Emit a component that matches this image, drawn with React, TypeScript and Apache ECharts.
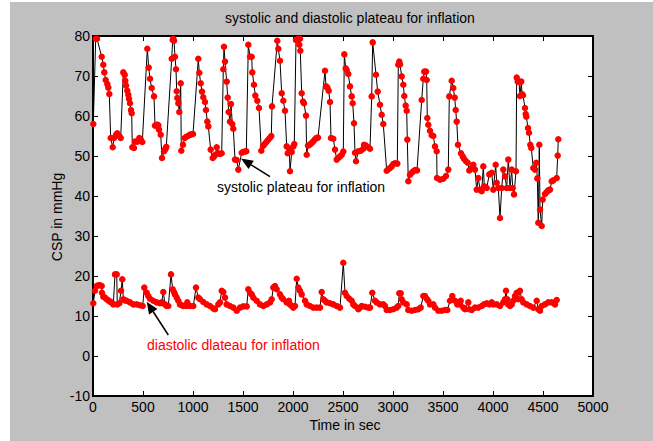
import React, { useEffect, useRef } from "react";
import * as echarts from "echarts";

// [time in sec, CSP in mmHg]
const systolicPoints: [number, number][] = [
  [3, 58], [27, 79.3], [40, 79.3], [87, 74.8], [103, 72.8], [113, 70.9], [127, 69], [143, 68], [153, 67.1], [163, 65.5],
  [177, 54.5], [197, 52.2], [210, 54.5], [230, 55.3], [243, 55.7], [263, 55], [277, 54.5],
  [303, 70.9], [317, 70.3], [323, 68.8], [330, 67.6], [343, 66.3], [353, 65.3], [360, 64.3], [370, 63.2], [380, 61.5], [387, 60.7],
  [393, 52.2], [410, 52], [420, 53.6], [443, 53.6], [463, 54.5], [477, 54.2], [493, 53.5],
  [543, 76.8], [557, 72.1], [570, 69.3], [587, 67], [610, 64.9], [620, 57.6], [637, 57.8], [645, 57.8], [653, 57.7], [660, 56.6], [677, 55.3],
  [690, 49.5], [710, 51.2], [720, 51.6], [727, 51.9], [733, 52.3],
  [787, 74.3], [797, 79], [803, 79.3], [810, 78.8], [820, 74.8], [830, 71.7], [837, 66.2], [843, 64.5], [853, 63.2], [863, 61], [877, 68.2],
  [883, 51.3], [900, 52.8], [917, 54.5], [933, 54.8], [950, 55], [967, 55.3], [983, 55.4], [1000, 55.5],
  [1053, 74.3], [1063, 70.8], [1077, 68.2], [1090, 66.1], [1103, 64.7], [1120, 63.5], [1130, 61.5], [1143, 58.6], [1153, 57.4],
  [1177, 51.6], [1197, 49.5], [1210, 49.9], [1223, 50.3], [1237, 52.2], [1253, 50.7], [1270, 50.5], [1287, 50.7],
  [1303, 71.7], [1310, 77.3], [1320, 73.6], [1337, 68.6], [1347, 64.6], [1357, 61], [1370, 58.6], [1380, 63], [1393, 58], [1403, 56.8],
  [1420, 49.1], [1437, 49], [1453, 46.6], [1487, 50.8], [1500, 51], [1517, 51.1], [1533, 51.2],
  [1553, 77.8], [1570, 74.8], [1587, 74.8], [1593, 70.9], [1610, 67.8], [1623, 65.1], [1643, 63.8], [1660, 62],
  [1683, 51.3], [1700, 52.5], [1717, 53], [1733, 53.5], [1750, 54], [1767, 54.5], [1783, 55], [1790, 62.4],
  [1843, 78.8], [1853, 76.8], [1870, 73.8], [1887, 65.7], [1903, 63.8], [1920, 61.3],
  [1937, 52.4], [1947, 50.7], [1963, 51.8], [1970, 46.2], [1987, 51], [2003, 52.4], [2013, 53],
  [2030, 79], [2053, 79.3], [2063, 77.8], [2070, 79.3], [2073, 76.3], [2087, 65.7], [2100, 63.6], [2110, 63.2], [2130, 60.1],
  [2137, 50.3], [2150, 52.6], [2167, 52.8], [2183, 53.2], [2200, 53.6], [2217, 54.1], [2233, 54.5], [2250, 54.6],
  [2320, 71.3], [2330, 67.4], [2343, 67.1], [2357, 66.3], [2370, 63.5],
  [2380, 54.5], [2403, 54.3], [2420, 51.6], [2437, 49.1], [2453, 49.5], [2470, 49.9], [2487, 50.3], [2503, 51.1],
  [2513, 75.4], [2527, 71.9], [2537, 71.5], [2553, 70.5], [2570, 67.4], [2587, 64.9], [2597, 63.2], [2610, 58.2],
  [2620, 50.8], [2630, 48.7], [2653, 51.2], [2677, 51.3], [2703, 51.8], [2710, 52.8], [2730, 52.6], [2753, 52.2], [2770, 51.8],
  [2787, 64.9], [2797, 78.4], [2830, 70.3], [2847, 66.1], [2870, 62.8], [2887, 60.3], [2903, 58],
  [2937, 46.3], [2953, 46.7], [2970, 47], [2987, 47.4], [3003, 48], [3020, 48.2], [3043, 48.1],
  [3053, 72.8], [3063, 73.6], [3070, 72.9], [3087, 69.9], [3103, 67.8], [3113, 65], [3127, 62.6], [3137, 61.3], [3143, 54.1],
  [3153, 43.7], [3170, 45.3], [3187, 45.8], [3203, 46.2], [3220, 46.5], [3240, 46.4],
  [3287, 64], [3303, 69.3], [3313, 71.1], [3330, 71.1], [3337, 69], [3343, 59.5], [3353, 57.8], [3370, 56.3], [3387, 55.2], [3403, 55],
  [3420, 52.4], [3437, 51.2], [3440, 44.5], [3470, 44.1], [3503, 44.3], [3530, 45], [3553, 46.6],
  [3563, 64.9], [3587, 68.8], [3603, 67], [3617, 64.6], [3627, 61.5], [3637, 58.6], [3650, 52.8],
  [3680, 50.7], [3697, 49.9], [3710, 49.3], [3730, 48.7], [3747, 48.3], [3763, 46.4], [3787, 47], [3803, 47.8], [3820, 46.6],
  [3837, 41.6], [3853, 44.5], [3870, 41.6], [3887, 41.2], [3903, 47.4], [3913, 42.4], [3937, 42], [3963, 45.4], [3987, 45.8],
  [4003, 41.6], [4027, 47.8], [4037, 43.3], [4053, 42], [4070, 34.5], [4087, 42], [4103, 46.6], [4120, 44.9], [4137, 42],
  [4153, 49.1], [4170, 42], [4187, 46.6], [4197, 42], [4210, 40.4], [4230, 46.2],
  [4237, 69.6], [4247, 68.6], [4260, 68.6], [4270, 65], [4283, 68.6], [4290, 65.5], [4300, 65.2], [4320, 62], [4327, 60.5], [4333, 59.8],
  [4350, 57], [4360, 55.8], [4373, 52.8], [4383, 52], [4403, 47], [4420, 46.6], [4433, 48.3], [4443, 44.4], [4453, 33.3],
  [4463, 52.8], [4470, 36.6], [4487, 32.5], [4497, 39.1], [4520, 40.5], [4537, 41], [4553, 41.4], [4570, 41.6], [4587, 43.7],
  [4603, 43.9], [4637, 44.5], [4647, 50.1], [4653, 54.2],
];

const diastolicPoints: [number, number][] = [
  [3, 13.2], [20, 16.3], [37, 17.5], [53, 17.7], [70, 17.7], [87, 17.5], [90, 15.8], [103, 14.8], [120, 14.6], [137, 14.2],
  [153, 13.9], [170, 13.6], [187, 13.4], [203, 12.9], [220, 20.4], [237, 20.4], [243, 12.9], [263, 13.2], [280, 16.3], [293, 19.2],
  [303, 14.2], [320, 13.9], [337, 13.8], [370, 13.4], [403, 12.9], [437, 12.9], [470, 12.7], [497, 12.5], [513, 17.1], [537, 15.8],
  [553, 15], [570, 14.3], [603, 13.8], [637, 13.4], [670, 13.2], [687, 13.4], [703, 16], [720, 12.9], [737, 12.5], [753, 12.5],
  [780, 20.4], [797, 16.7], [810, 16], [820, 15.4], [837, 14.6], [853, 13.8], [870, 12.9], [887, 12.7], [903, 12.5], [937, 12.5],
  [943, 13.4], [970, 12.5], [1003, 12.5], [1030, 17.1], [1053, 14.6], [1070, 14.2], [1103, 13.5], [1137, 12.9], [1170, 12.5],
  [1203, 11.9], [1220, 11.7], [1253, 12.9], [1270, 13.4], [1287, 16.3], [1303, 16], [1320, 14.6], [1337, 12.9], [1370, 12.5],
  [1403, 12.1], [1437, 11.3], [1470, 12.1], [1503, 12.4], [1537, 12.4], [1553, 16.7], [1570, 15.8], [1587, 15.4], [1603, 14.6],
  [1637, 13.8], [1670, 12.9], [1703, 12.5], [1737, 12.9], [1770, 13.4], [1787, 14.2], [1803, 17.1], [1820, 17.5], [1837, 16.7],
  [1870, 15.4], [1887, 14.6], [1903, 14.2], [1937, 13.4], [1960, 13.8], [1970, 12.9], [1987, 12.5], [2003, 12.1], [2020, 12.5],
  [2037, 19.3], [2053, 17.1], [2070, 16.3], [2087, 15.4], [2120, 13.8], [2137, 12.9], [2170, 12.5], [2203, 12.1], [2237, 12.1],
  [2270, 12.1], [2287, 16], [2303, 14.2], [2320, 13.8], [2337, 13.4], [2370, 13.2], [2403, 12.9], [2437, 12.5], [2470, 12.1],
  [2503, 23.3], [2520, 15.8], [2537, 15], [2563, 14.3], [2587, 13.8], [2603, 12.9], [2620, 12.5], [2653, 11.7], [2670, 12.1],
  [2687, 12.5], [2720, 12.3], [2753, 12.1], [2770, 12.1], [2793, 15.8], [2820, 13.8], [2837, 13.4], [2870, 12.9], [2903, 12.9],
  [2920, 12.5], [2937, 11.5], [2970, 11.5], [3003, 11.7], [3037, 12.1], [3053, 12.5], [3063, 15.7], [3077, 15.7], [3087, 14.2],
  [3103, 13.4], [3137, 12.9], [3153, 11.5], [3187, 11.3], [3220, 11.5], [3253, 11.7], [3277, 12.1], [3303, 15], [3320, 15],
  [3337, 14.3], [3353, 13.8], [3370, 12.9], [3403, 12.9], [3420, 12.1], [3453, 11.3], [3487, 11.3], [3520, 11.5], [3543, 11.5],
  [3570, 13.8], [3593, 15], [3620, 13.8], [3643, 12.9], [3670, 12.9], [3677, 13.8], [3703, 12.1], [3720, 11.7], [3753, 13.4],
  [3763, 11.7], [3787, 11.5], [3820, 12.1], [3853, 12.1], [3887, 12.5], [3910, 12.9], [3937, 13.2], [3963, 12.9], [3987, 13.4],
  [4003, 12.9], [4037, 12.9], [4070, 12.5], [4103, 13.4], [4120, 14.2], [4130, 16.3], [4143, 14.2], [4153, 12.9], [4170, 12.5],
  [4187, 12.9], [4203, 13.8], [4220, 15], [4237, 15.8], [4253, 14.2], [4270, 16.3], [4287, 14.2], [4303, 13.4], [4337, 12.9],
  [4370, 12.5], [4403, 12.1], [4437, 13.8], [4453, 11.7], [4470, 11.3], [4487, 12.5], [4520, 12.9], [4553, 13.4], [4587, 13.4],
  [4620, 12.9], [4637, 14],
];

const titleText = "systolic and diastolic plateau for inflation";
const xAxisTitle = "Time in sec";
const yAxisTitle = "CSP in mmHg";
const systolicNote = "systolic plateau for inflation";
const diastolicNote = "diastolic dlateau for inflation";

const FONT = "Liberation Sans, Arial, Helvetica, sans-serif";

function arrow(tip: [number, number], tail: [number, number], len: number, half: number) {
  const dx = tip[0] - tail[0];
  const dy = tip[1] - tail[1];
  const d = Math.hypot(dx, dy);
  const ux = dx / d;
  const uy = dy / d;
  const bx = tip[0] - ux * len;
  const by = tip[1] - uy * len;
  const px = -uy;
  const py = ux;
  return [
    {
      type: "line",
      shape: { x1: tail[0], y1: tail[1], x2: bx, y2: by },
      style: { stroke: "#000", lineWidth: 1.5 },
      z: 100,
    },
    {
      type: "polygon",
      shape: {
        points: [
          [tip[0], tip[1]],
          [bx + px * half, by + py * half],
          [bx - px * half, by - py * half],
        ],
      },
      style: { fill: "#000" },
      z: 100,
    },
  ];
}

export default function App() {
  const ref = useRef<HTMLDivElement>(null);
  useEffect(() => {
    if (!ref.current) return;
    const chart = echarts.init(ref.current, undefined, { renderer: "svg" });
    const tickStyle = { show: true, inside: true, length: 5, lineStyle: { color: "#000", width: 1 } };
    const labelStyle = { color: "#000", fontSize: 14, fontFamily: FONT, formatter: (v: number) => String(v) };
    const lineStyle = { show: true, onZero: false, lineStyle: { color: "#000", width: 2 } };
    chart.setOption({
      animation: false,
      backgroundColor: "#c0c0c0",
      grid: {
        left: 83,
        top: 34,
        width: 500,
        height: 360,
        show: true,
        backgroundColor: "#fff",
        borderColor: "#000",
        borderWidth: 2,
      },
      xAxis: [
        {
          type: "value",
          min: 0,
          max: 5000,
          interval: 500,
          position: "bottom",
          axisLine: lineStyle,
          axisTick: tickStyle,
          axisLabel: { ...labelStyle, margin: 4 },
          splitLine: { show: false },
        },
        {
          type: "value",
          min: 0,
          max: 5000,
          interval: 500,
          position: "top",
          axisLine: lineStyle,
          axisTick: tickStyle,
          axisLabel: { show: false },
          splitLine: { show: false },
        },
      ],
      yAxis: [
        {
          type: "value",
          min: -10,
          max: 80,
          interval: 10,
          position: "left",
          axisLine: lineStyle,
          axisTick: tickStyle,
          axisLabel: { ...labelStyle, margin: 3 },
          splitLine: { show: false },
        },
        {
          type: "value",
          min: -10,
          max: 80,
          interval: 10,
          position: "right",
          axisLine: lineStyle,
          axisTick: tickStyle,
          axisLabel: { show: false },
          splitLine: { show: false },
        },
      ],
      series: [
        {
          type: "line",
          name: "systolic",
          data: systolicPoints,
          xAxisIndex: 0,
          yAxisIndex: 0,
          symbol: "circle",
          symbolSize: 6.5,
          showAllSymbol: true,
          lineStyle: { color: "#000", width: 1 },
          itemStyle: { color: "#ff0000", borderWidth: 0 },
        },
        {
          type: "line",
          name: "diastolic",
          data: diastolicPoints,
          xAxisIndex: 0,
          yAxisIndex: 0,
          symbol: "circle",
          symbolSize: 6.5,
          showAllSymbol: true,
          lineStyle: { color: "#000", width: 1 },
          itemStyle: { color: "#ff0000", borderWidth: 0 },
        },
      ],
      graphic: [
        {
          type: "text",
          x: 340,
          y: 16,
          style: { text: titleText, fill: "#000", font: `14px ${FONT}`, textAlign: "center", textVerticalAlign: "middle" },
        },
        {
          type: "text",
          x: 335,
          y: 423,
          style: { text: xAxisTitle, fill: "#000", font: `14px ${FONT}`, textAlign: "center", textVerticalAlign: "middle" },
        },
        {
          type: "text",
          x: 47,
          y: 215,
          rotation: Math.PI / 2,
          style: { text: yAxisTitle, fill: "#000", font: `14px ${FONT}`, textAlign: "center", textVerticalAlign: "middle" },
        },
        {
          type: "text",
          x: 207,
          y: 185,
          z: 100,
          style: { text: systolicNote, fill: "#000", font: `14px ${FONT}`, textAlign: "left", textVerticalAlign: "middle" },
        },
        {
          type: "text",
          x: 137,
          y: 343,
          z: 100,
          style: { text: diastolicNote, fill: "#ff0000", font: `14px ${FONT}`, textAlign: "left", textVerticalAlign: "middle" },
        },
        ...arrow([231, 156.5], [260, 174.7], 12, 5),
        ...arrow([136.7, 299.7], [158.3, 333], 12, 5),
      ],
    });
    return () => chart.dispose();
  }, []);
  return (
    <div
      ref={ref}
      style={{ position: "absolute", left: 10, top: 2, width: 643, height: 439 }}
    />
  );
}
